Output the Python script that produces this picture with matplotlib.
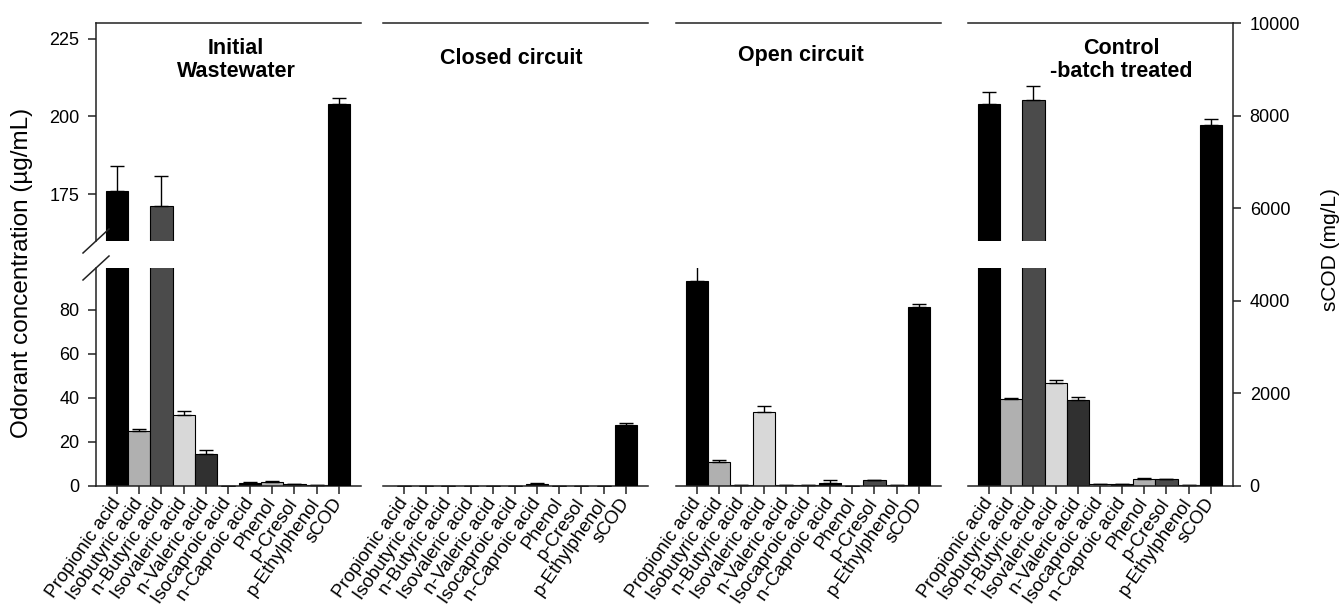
import matplotlib.pyplot as plt
from matplotlib.lines import Line2D

plt.rcParams['font.family'] = ['Liberation Sans', 'DejaVu Sans']

labels = ['Propionic acid', 'Isobutyric acid', 'n-Butyric acid', 'Isovaleric acid',
          'n-Valeric acid', 'Isocaproic acid', 'n-Caproic acid', 'Phenol',
          'p-Cresol', 'p-Ethylphenol', 'sCOD']

# odorant concentrations (ug/mL) and upper error, one list per treatment
initial = [175.9, 24.8, 171.2, 32.1, 14.7, 0.0, 1.3, 2.0, 0.8, 0.5]
initial_err = [8.1, 1.3, 9.6, 2.1, 1.5, 0.0, 0.6, 0.4, 0.2, 0.1]
closed = [0.2, 0.1, 0.1, 0.1, 0.1, 0.1, 1.0, 0.1, 0.1, 0.1]
closed_err = [0.0, 0.0, 0.0, 0.0, 0.0, 0.0, 0.3, 0.0, 0.0, 0.0]
open_c = [93.2, 10.8, 0.6, 33.8, 0.3, 0.5, 1.4, 0.1, 2.6, 0.5]
open_c_err = [6.5, 0.9, 0.0, 2.7, 0.0, 0.1, 1.1, 0.0, 0.2, 0.0]
control = [204.1, 39.3, 205.2, 47.0, 39.0, 1.0, 0.8, 3.4, 3.0, 0.5]
control_err = [3.9, 0.6, 4.6, 1.2, 1.5, 0.1, 0.1, 0.2, 0.3, 0.1]

# soluble COD (mg/L)
scod = [8240, 1320, 3860, 7800]
scod_err = [130, 30, 70, 130]

titles = ['Initial\nWastewater', 'Closed circuit', 'Open circuit', 'Control\n-batch treated']
title_pos = [(236, 60), (511, 59), (801, 56), (1121, 60)]

bar_colors = ['#000000', '#b0b0b0', '#4b4b4b', '#d8d8d8', '#303030',
              '#ffffff', '#000000', '#b0b0b0', '#4b4b4b', '#d8d8d8']

odor = [initial, closed, open_c, control]
odor_err = [initial_err, closed_err, open_c_err, control_err]

W, H = 1342, 609
fig = plt.figure(figsize=(W / 100, H / 100), dpi=100)


def fx(px):
    return px / W


def fy(py):
    return 1 - py / H


top, low_top, up_bot, base = 23, 268, 241, 486
panel_left = [96, 383, 676, 968]
panel_w = 265
spine_c = '#222222'
tick_fs = 13

ekw = dict(elinewidth=1, capthick=1, ecolor='black')
xs = list(range(10))

for i in range(4):
    x0 = fx(panel_left[i])
    w = panel_w / W
    ax_lo = fig.add_axes([x0, fy(base), w, fy(low_top) - fy(base)])
    ax_up = fig.add_axes([x0, fy(up_bot), w, fy(top) - fy(up_bot)])
    ax_r = fig.add_axes([x0, fy(base), w, fy(top) - fy(base)])
    ax_r.patch.set_visible(False)

    for ax in (ax_lo, ax_up):
        ax.bar(xs, odor[i], width=1.0, color=bar_colors, edgecolor='black',
               linewidth=0.8, yerr=[[0] * 10, odor_err[i]], capsize=5,
               error_kw=ekw)
    ax_r.bar([10], [scod[i]], width=1.0, color='black', edgecolor='black',
             linewidth=0.8, yerr=[[0], [scod_err[i]]], capsize=5, error_kw=ekw)

    for ax in (ax_lo, ax_up, ax_r):
        ax.set_xlim(-0.95, 11.0)
        for s in ax.spines.values():
            s.set_visible(False)
            s.set_color(spine_c)
            s.set_linewidth(1.1)
        ax.tick_params(direction='out', length=6, width=1.1, color=spine_c,
                       labelsize=tick_fs, pad=6)

    ax_lo.set_ylim(0, 99)
    ax_up.set_ylim(160, 230)
    ax_r.set_ylim(0, 10000)

    ax_lo.spines['bottom'].set_visible(True)
    ax_up.spines['top'].set_visible(True)
    ax_lo.set_xticks(range(11))
    ax_lo.set_xticklabels(labels, rotation=55, ha='right', va='center',
                          rotation_mode='anchor', fontsize=13.5)
    ax_lo.tick_params(axis='x', pad=4)
    ax_up.set_xticks([])
    ax_r.set_xticks([])

    if i == 0:
        ax_lo.spines['left'].set_visible(True)
        ax_up.spines['left'].set_visible(True)
        ax_lo.set_yticks([0, 20, 40, 60, 80])
        ax_up.set_yticks([175, 200, 225])
        # break marks on the left axis
        dx, dy = 13 / panel_w, 12 / 218
        ax_up.add_line(Line2D([-dx, dx], [-dy, dy], transform=ax_up.transAxes,
                              color=spine_c, lw=1.1, clip_on=False))
        ax_lo.add_line(Line2D([-dx, dx], [1 - dy, 1 + dy], transform=ax_lo.transAxes,
                              color=spine_c, lw=1.1, clip_on=False))
    else:
        ax_lo.set_yticks([])
        ax_up.set_yticks([])

    if i == 3:
        ax_r.spines['right'].set_visible(True)
        ax_r.yaxis.tick_right()
        ax_r.set_yticks([0, 2000, 4000, 6000, 8000, 10000])
    else:
        ax_r.set_yticks([])

    tx, ty = title_pos[i]
    fig.text(fx(tx), fy(ty), titles[i], ha='center', va='center',
             fontsize=15.5, fontweight='bold', linespacing=1.1)

fig.text(fx(22), fy(273), 'Odorant concentration (µg/mL)', rotation=90,
         ha='center', va='center', fontsize=17.5)
fig.text(fx(1330), fy(250), 'sCOD (mg/L)', rotation=90,
         ha='center', va='center', fontsize=15)

fig.savefig('out.png', dpi=100)
